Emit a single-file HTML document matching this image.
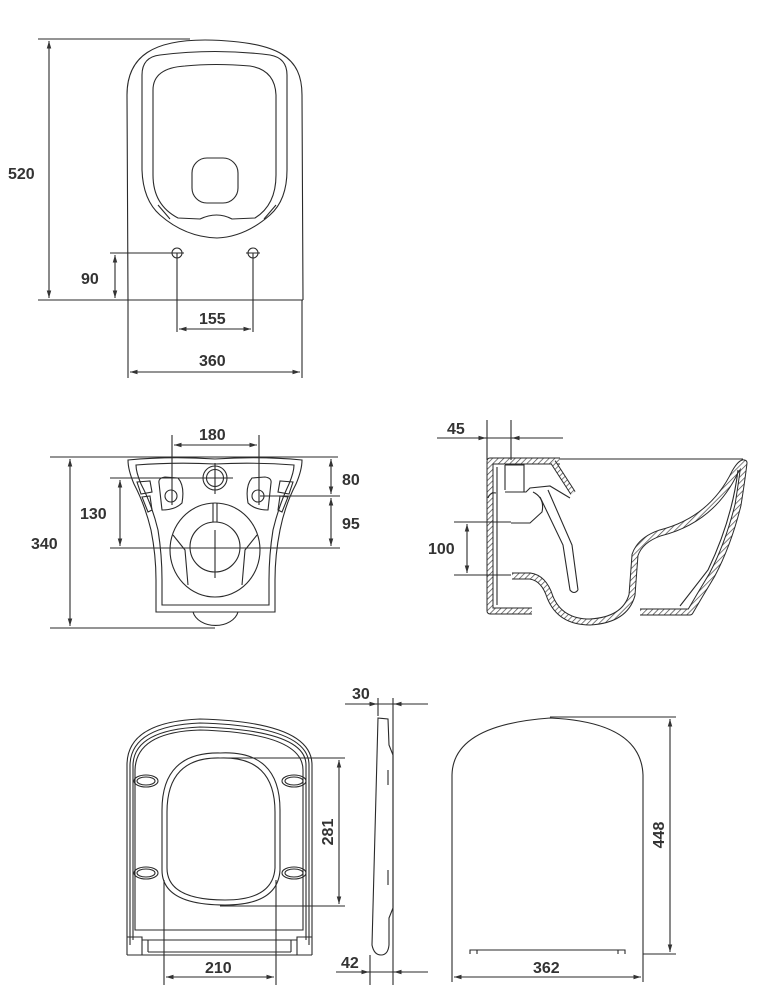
<!DOCTYPE html>
<html><head><meta charset="utf-8"><style>
html,body{margin:0;padding:0;background:#fff}
svg{display:block}
text{font-family:"Liberation Sans",sans-serif;font-weight:bold;font-size:16px;fill:#333}
</style></head><body>
<svg width="768" height="1000" viewBox="0 0 768 1000" xmlns="http://www.w3.org/2000/svg">
<defs>
<pattern id="h" width="4" height="4" patternUnits="userSpaceOnUse" patternTransform="rotate(45)">
<rect width="4" height="4" fill="#fff"/><line x1="0" y1="0" x2="0" y2="4" stroke="#444" stroke-width="1.4"/></pattern>
<marker id="a" viewBox="0 0 10 10" refX="10" refY="5" markerWidth="7" markerHeight="7" orient="auto-start-reverse"><path d="M0,2 L10,5 L0,8 Z" fill="#333"/></marker>
</defs>
<g fill="none" stroke="#2a2a2a" stroke-width="1.1">
<!-- TOP VIEW -->
<path d="M128,300 L127,95 C127,55 155,40 205,40 C280,41 302,58 302,95 L303,300"/>
<path d="M142,75 Q142,57 160,55 Q215,48 270,55 Q287,58 287,75 L287,170 Q287,200 270,215 Q245,237 217,238 Q185,237 160,215 Q143,200 142,170 Z"/>
<path d="M153,90 Q153,68 185,66 Q215,63 250,66 Q275,70 276,95 L276,175 Q276,205 255,218 L232,219 Q217,211 200,219 L178,218 Q153,205 153,175 Z"/>
<path d="M158,205 L170,219 M276,205 L264,219"/>
<rect x="192" y="158" width="46" height="45" rx="15"/>
<circle cx="177" cy="253" r="5"/><circle cx="253" cy="253" r="5"/>
<path d="M170,253 H184 M246,253 H260"/>
<path d="M38,39 H190 M38,300 H130 M128,300 H303 M110,253 H172 M177,253 V332 M253,253 V332 M128,300 V378 M302,300 V378"/>
<line x1="49" y1="41" x2="49" y2="298" marker-start="url(#a)" marker-end="url(#a)"/>
<line x1="115" y1="255" x2="115" y2="298" marker-start="url(#a)" marker-end="url(#a)"/>
<line x1="179" y1="329" x2="251" y2="329" marker-start="url(#a)" marker-end="url(#a)"/>
<line x1="130" y1="372" x2="300" y2="372" marker-start="url(#a)" marker-end="url(#a)"/>

<!-- FRONT VIEW -->
<path d="M128,460 Q170,456 215,459 Q260,456 302,460 Q302,470 296,484 Q285,505 280,530 Q275,555 275,580 L275,612 L156,612 L156,580 Q156,555 151,530 Q145,505 134,484 Q128,470 128,460 Z"/>
<path d="M136,465 Q175,462 215,464 Q255,462 294,465 Q294,472 289,484 Q279,505 273,530 Q269,555 269,580 L269,605 L162,605 L162,580 Q162,555 158,530 Q152,505 141,484 Q136,472 136,465 Z"/>
<path d="M193,612 A23,17 0 0 0 238,612"/>
<circle cx="215" cy="478" r="12"/><circle cx="215" cy="478" r="8.5"/>
<ellipse cx="215" cy="550" rx="45" ry="47"/>
<circle cx="215" cy="547" r="25"/>
<path d="M213,503 V522 M217,503 V522 M173,535 L185,550 L188,585 M257,535 L245,550 L242,585"/>
<path d="M159,483 Q158,478 165,477 L178,478 Q185,486 182,503 Q175,510 162,510 Z"/>
<path d="M271,483 Q272,478 265,477 L252,478 Q245,486 248,503 Q255,510 268,510 Z"/>
<path d="M137,482 L150,481 L152,492 L141,494 Z M142,497 L150,496 L152,510 L148,512 Z"/>
<path d="M293,482 L280,481 L278,492 L289,494 Z M288,497 L280,496 L278,510 L282,512 Z"/>
<circle cx="171" cy="496" r="6"/><circle cx="258" cy="496" r="6"/>
<path d="M215,463 V494 M190,478 H232 M215,530 V578"/>
<path d="M50,457 H338 M110,478 H233 M260,496 H340 M110,548 H340 M50,628 H215 M172,435 V505 M259,435 V505"/>
<line x1="174" y1="445" x2="257" y2="445" marker-start="url(#a)" marker-end="url(#a)"/>
<line x1="70" y1="459" x2="70" y2="626" marker-start="url(#a)" marker-end="url(#a)"/>
<line x1="120" y1="480" x2="120" y2="546" marker-start="url(#a)" marker-end="url(#a)"/>
<line x1="331" y1="459" x2="331" y2="494" marker-start="url(#a)" marker-end="url(#a)"/>
<line x1="331" y1="498" x2="331" y2="546" marker-start="url(#a)" marker-end="url(#a)"/>

<!-- SECTION VIEW -->
<path d="M555,459 H743"/>
<g stroke-linejoin="round">
<path d="M560,461 H490 V611 H532" stroke="#2a2a2a" stroke-width="7"/>
<path d="M560,461 H490 V611 H532" stroke="url(#h)" stroke-width="5"/>
<path d="M553,462 L573,493" stroke="#2a2a2a" stroke-width="6"/>
<path d="M553,462 L573,493" stroke="url(#h)" stroke-width="4"/>
<path d="M512,576 L530,576 Q544,578 550,597 Q560,622 590,622 Q625,620 632,595 L635,555 Q640,540 660,533 Q712,520 735,472 Q741,462 744,463 Q742,480 738,505 Q728,545 712,575 L700,595 L690,612 L640,612" stroke="#2a2a2a" stroke-width="7"/>
<path d="M512,576 L530,576 Q544,578 550,597 Q560,622 590,622 Q625,620 632,595 L635,555 Q640,540 660,533 Q712,520 735,472 Q741,462 744,463 Q742,480 738,505 Q728,545 712,575 L700,595 L690,612 L640,612" stroke="url(#h)" stroke-width="5"/>
</g>
<path d="M738,470 Q732,520 708,570 L680,606"/>
<path d="M497,467 V605 M505,465 V490 M505,465 H524 V492 H505 M505,492 H526 L530,488 L550,486 L570,498 M533,492 Q545,498 542,512 L530,523 H511 M548,490 L572,545 L578,590 M540,497 L563,545 L570,590 Q574,595 578,590"/>
<path d="M488,498 Q490,492 496,493"/>
<path d="M437,438 H563 M487,420 V460 M511,420 V460 M454,522 H511 M454,575 H511"/>
<line x1="478" y1="438" x2="486" y2="438" marker-end="url(#a)"/>
<line x1="520" y1="438" x2="512" y2="438" marker-end="url(#a)"/>
<line x1="467" y1="524" x2="467" y2="573" marker-start="url(#a)" marker-end="url(#a)"/>

<!-- SEAT TOP -->
<path d="M127,955 L127,765 Q127,722 200,719 Q312,722 312,765 L312,955"/>
<path d="M130,945 L130,765 Q131,726 200,723 Q309,726 309,765 L309,945"/>
<path d="M133,940 L133,765 Q134,730 200,727 Q306,730 306,765 L306,940"/>
<path d="M135,930 L135,770 Q136,732 200,730 Q303,733 303,770 L303,930 Z"/>
<path d="M127,937 H142 V955 M312,937 H297 V955 M142,940 H297 M148,940 V952 M291,940 V952 M127,955 H312 M148,952 H291"/>
<path d="M220,753 Q280,750 280,810 L280,870 Q278,905 225,905 Q162,905 162,870 L162,810 Q162,752 220,753 Z"/>
<path d="M220,758 Q275,756 275,812 L275,868 Q273,900 225,900 Q167,900 167,868 L167,812 Q167,757 220,758 Z"/>
<ellipse cx="146" cy="781" rx="12" ry="6"/><ellipse cx="146" cy="781" rx="9" ry="4"/>
<ellipse cx="294" cy="781" rx="12" ry="6"/><ellipse cx="294" cy="781" rx="9" ry="4"/>
<ellipse cx="146" cy="873" rx="12" ry="6"/><ellipse cx="146" cy="873" rx="9" ry="4"/>
<ellipse cx="294" cy="873" rx="12" ry="6"/><ellipse cx="294" cy="873" rx="9" ry="4"/>
<path d="M220,758 H345 M220,906 H345 M164,880 V985 M276,880 V985"/>
<line x1="339" y1="760" x2="339" y2="904" marker-start="url(#a)" marker-end="url(#a)"/>
<line x1="166" y1="977" x2="274" y2="977" marker-start="url(#a)" marker-end="url(#a)"/>

<!-- SEAT SIDE -->
<path d="M378,718 L388,719 L389,745 L393,755 L393,908 L389,918 L389,945 Q388,955 381,955 Q374,955 372,945 Z"/>
<path d="M388,770 V785 M388,870 V885"/>
<path d="M345,704 H428 M378,698 V716 M393,698 V985 M370,955 V985 M336,972 H428"/>
<line x1="368" y1="704" x2="377" y2="704" marker-end="url(#a)"/>
<line x1="403" y1="704" x2="394" y2="704" marker-end="url(#a)"/>
<line x1="360" y1="972" x2="369" y2="972" marker-end="url(#a)"/>
<line x1="403" y1="972" x2="394" y2="972" marker-end="url(#a)"/>

<!-- BACK VIEW -->
<path d="M452,954 L452,775 Q453,725 550,718 Q641,722 643,775 L643,954"/>
<path d="M470,954 V950 H477 V954 M618,954 V950 H625 V954 M477,950 H618"/>
<path d="M550,717 H676 M643,954 H676 M452,954 V982 M643,954 V982"/>
<line x1="670" y1="719" x2="670" y2="952" marker-start="url(#a)" marker-end="url(#a)"/>
<line x1="454" y1="977" x2="641" y2="977" marker-start="url(#a)" marker-end="url(#a)"/>
</g>
<text x="8" y="179">520</text>
<text x="81" y="284">90</text>
<text x="199" y="324">155</text>
<text x="199" y="366">360</text>
<text x="199" y="440">180</text>
<text x="342" y="485">80</text>
<text x="342" y="529">95</text>
<text x="80" y="519">130</text>
<text x="31" y="549">340</text>
<text x="447" y="434">45</text>
<text x="428" y="554">100</text>
<text x="352" y="699">30</text>
<text x="341" y="968">42</text>
<text x="205" y="973">210</text>
<text x="533" y="973">362</text>
<text transform="translate(333,832) rotate(-90)" text-anchor="middle">281</text>
<text transform="translate(664,835) rotate(-90)" text-anchor="middle">448</text>
</svg>
</body></html>
